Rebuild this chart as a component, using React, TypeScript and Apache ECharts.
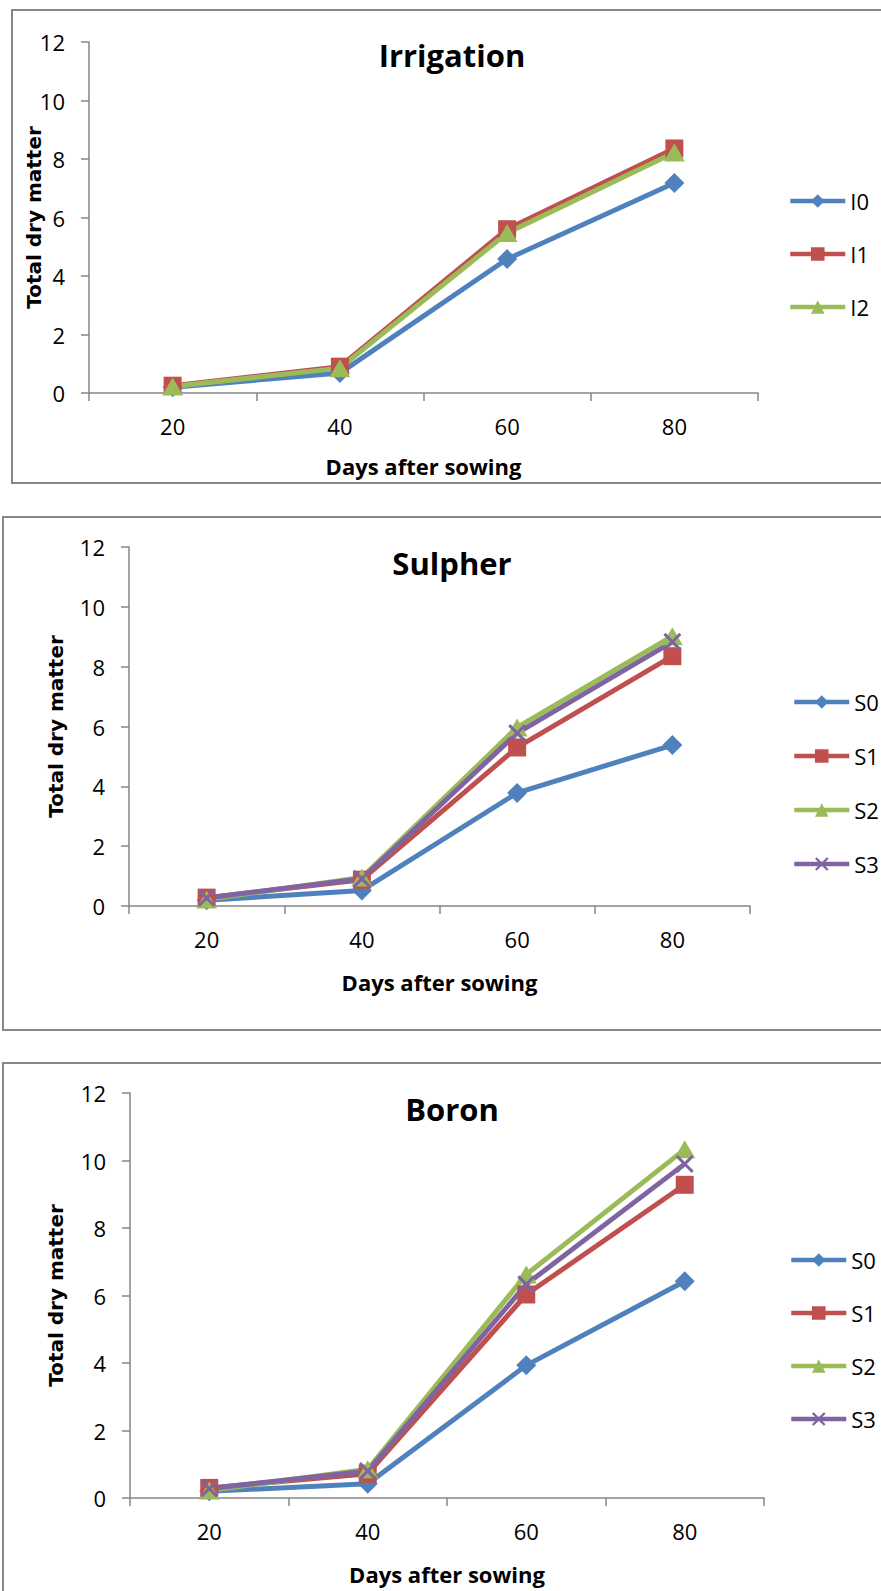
import React, { useEffect, useRef } from "react";
import * as echarts from "echarts";

const days = ["20", "40", "60", "80"];
const yMin = 0;
const yMax = 12;
const yStep = 2;

const irrigationNames = ["I0", "I1", "I2"];
const irrigI0 = [0.2, 0.68, 4.58, 7.18];
const irrigI1 = [0.25, 0.9, 5.6, 8.36];
const irrigI2 = [0.22, 0.85, 5.47, 8.22];

const sulpherNames = ["S0", "S1", "S2", "S3"];
const sulS0 = [0.19, 0.52, 3.78, 5.38];
const sulS1 = [0.28, 0.88, 5.3, 8.35];
const sulS2 = [0.22, 0.95, 5.97, 9.02];
const sulS3 = [0.27, 0.91, 5.78, 8.83];

const boronNames = ["S0", "S1", "S2", "S3"];
const borS0 = [0.2, 0.42, 3.93, 6.42];
const borS1 = [0.3, 0.72, 6.03, 9.28];
const borS2 = [0.22, 0.85, 6.62, 10.33];
const borS3 = [0.28, 0.8, 6.33, 9.9];

const titles = ["Irrigation", "Sulpher", "Boron"];
const xName = "Days after sowing";
const yName = "Total dry matter";

const COLORS = ["#4F81BD", "#C0504D", "#9BBB59", "#8064A2"];
const CROSS =
  "path://M0,1.2 L1.2,0 L5,3.8 L8.8,0 L10,1.2 L6.2,5 L10,8.8 L8.8,10 L5,6.2 L1.2,10 L0,8.8 L3.8,5 Z";
const SYMBOLS = ["diamond", "rect", "triangle", CROSS];
const SIZES: any[] = [[20, 20], [18, 18], [21, 18], [18, 18]];

const FONT = '"Open Sans", "Liberation Sans", sans-serif';
const YFONT = '"DejaVu Sans", Verdana, sans-serif';
const AXIS_GRAY = "#868686";

export default function App() {
  const ref = useRef<HTMLDivElement>(null);

  useEffect(() => {
    if (!ref.current) return;
    const chart = echarts.init(ref.current, null, { renderer: "svg" });

    const panels = [
      {
        grid: { left: 89, top: 42, width: 669, height: 351 },
        names: irrigationNames,
        data: [irrigI0, irrigI1, irrigI2],
        titleY: 55,
        legendLeft: 788,
        legendTop: 190,
        legendGap: 31,
        yNameX: 34,
        xNameY: 466,
        box: { x: 12, y: 10, w: 900, h: 473 },
      },
      {
        grid: { left: 129, top: 547, width: 621, height: 359 },
        names: sulpherNames,
        data: [sulS0, sulS1, sulS2, sulS3],
        titleY: 563,
        legendLeft: 792,
        legendTop: 691,
        legendGap: 32,
        yNameX: 56,
        xNameY: 982,
        box: { x: 3, y: 517, w: 900, h: 513 },
      },
      {
        grid: { left: 130, top: 1093, width: 634, height: 405 },
        names: boronNames,
        data: [borS0, borS1, borS2, borS3],
        titleY: 1109,
        legendLeft: 789,
        legendTop: 1249,
        legendGap: 31,
        yNameX: 56,
        xNameY: 1574,
        box: { x: 3, y: 1063, w: 900, h: 600 },
      },
    ];

    const grids: any[] = [];
    const xAxes: any[] = [];
    const yAxes: any[] = [];
    const series: any[] = [];
    const legends: any[] = [];
    const graphics: any[] = [];

    panels.forEach((p, pi) => {
      grids.push({ ...p.grid, containLabel: false, outerBoundsMode: "none" });
      xAxes.push({
        type: "category",
        gridIndex: pi,
        data: days,
        boundaryGap: true,
        axisLine: { show: true, lineStyle: { color: AXIS_GRAY, width: 1.5 } },
        axisTick: {
          show: true,
          interval: 0,
          alignWithLabel: false,
          length: 8,
          lineStyle: { color: AXIS_GRAY, width: 1.5 },
        },
        axisLabel: {
          margin: 22,
          fontFamily: FONT,
          fontSize: 22,
          color: "#000",
          interval: 0,
        },
        splitLine: { show: false },
      });
      yAxes.push({
        type: "value",
        gridIndex: pi,
        min: yMin,
        max: yMax,
        interval: yStep,
        axisLine: { show: true, lineStyle: { color: AXIS_GRAY, width: 1.5 } },
        axisTick: { show: true, length: 8, lineStyle: { color: AXIS_GRAY, width: 1.5 } },
        axisLabel: {
          margin: 24,
          fontFamily: FONT,
          fontSize: 22,
          color: "#000",
        },
        splitLine: { show: false },
      });
      p.data.forEach((vals, si) => {
        series.push({
          type: "line",
          name: p.names[si],
          xAxisIndex: pi,
          yAxisIndex: pi,
          data: vals,
          symbol: SYMBOLS[si],
          symbolSize: SIZES[si],
          showAllSymbol: true,
          lineStyle: { color: COLORS[si], width: 5 },
          itemStyle: { color: COLORS[si] },
          emphasis: { disabled: true },
        });
      });
      legends.push({
        orient: "vertical",
        left: p.legendLeft,
        top: p.legendTop,
        padding: 0,
        itemWidth: 55,
        itemHeight: 17,
        itemGap: p.legendGap,
        data: p.names,
        lineStyle: { width: 4.5 },
        textStyle: {
          fontFamily: FONT,
          fontSize: 22,
          color: "#000",
          lineHeight: 17,
        },
        selectedMode: false,
      });
      graphics.push({
        type: "rect",
        shape: { x: p.box.x, y: p.box.y, width: p.box.w, height: p.box.h },
        style: { fill: "none", stroke: "#878787", lineWidth: 2 },
        silent: true,
        z: -10,
      });
      graphics.push({
        type: "text",
        x: 452,
        y: p.titleY,
        style: {
          text: titles[pi],
          fontFamily: FONT,
          fontWeight: "bold",
          fontSize: 31,
          fill: "#000",
          align: "center",
          verticalAlign: "middle",
        },
        silent: true,
      });
      graphics.push({
        type: "text",
        x: p.grid.left + p.grid.width / 2,
        y: p.xNameY,
        style: {
          text: xName,
          fontFamily: FONT,
          fontWeight: "bold",
          fontSize: 22,
          fill: "#000",
          align: "center",
          verticalAlign: "middle",
        },
        silent: true,
      });
      graphics.push({
        type: "text",
        x: p.yNameX,
        y: p.grid.top + p.grid.height / 2,
        rotation: Math.PI / 2,
        style: {
          text: yName,
          fontFamily: YFONT,
          fontWeight: "bold",
          fontSize: 20,
          fill: "#000",
          align: "center",
          verticalAlign: "middle",
        },
        silent: true,
      });
    });

    chart.setOption({
      animation: false,
      backgroundColor: "#ffffff",
      grid: grids,
      xAxis: xAxes,
      yAxis: yAxes,
      legend: legends,
      series,
      graphic: { elements: graphics },
    });

    return () => chart.dispose();
  }, []);

  return (
    <div
      ref={ref}
      style={{ position: "absolute", left: 0, top: 0, width: 881, height: 1591 }}
    />
  );
}
